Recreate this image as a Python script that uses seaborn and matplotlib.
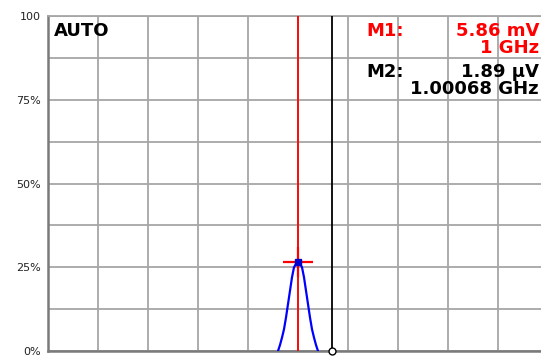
import matplotlib
matplotlib.use("Agg")
import matplotlib.pyplot as plt
import seaborn as sns
import pandas as pd
import numpy as np

# Trace data (frequency in MHz, level in %)
freq_mhz = [999.60, 999.64, 999.68, 999.72, 999.76, 999.80, 999.84, 999.88, 999.92,
            999.96, 1000.00, 1000.04, 1000.08, 1000.12, 1000.16, 1000.20, 1000.24,
            1000.28, 1000.32, 1000.36, 1000.40]
level_pct = [0.0, 1.8, 4.0, 6.5, 10.0, 14.0, 18.0, 22.0, 25.0, 26.0, 26.5,
             26.0, 25.0, 22.0, 18.0, 14.0, 10.0, 6.5, 4.0, 1.8, 0.0]

m1_freq, m1_level = 1000.0, 26.5
m2_freq, m2_level = 1000.68, 0.0
m1_texts = ["5.86 mV", "1 GHz"]
m2_texts = ["1.89 µV", "1.00068 GHz"]
y_ticks = [0, 25, 50, 75, 100]
y_tick_labels = ["0%", "25%", "50%", "75%", "100"]
x_min, x_max = 995.0, 1005.0

df = pd.DataFrame({"freq": freq_mhz, "level": level_pct})

sns.set_theme(style="white")
plt.rcParams['font.family'] = ['DejaVu Sans']

W, H = 541, 359
fig = plt.figure(figsize=(W / 100, H / 100), dpi=100)
ax = fig.add_axes([48 / W, 8 / H, 500 / W, 335 / H])

sns.lineplot(data=df, x="freq", y="level", ax=ax, color="#0000ff", linewidth=1.6,
             zorder=4)

grid_c = "#a6a6a6"
ax.set_xlim(x_min, x_max)
ax.set_ylim(0, 100)
ax.set_xticks(np.arange(x_min, x_max + 0.5, 1.0))
ax.tick_params(axis="x", labelbottom=False, length=0)
ax.tick_params(axis="y", length=0, pad=5)
ax.set_yticks(y_ticks, labels=y_tick_labels)
ax.set_yticks(np.arange(0, 100.1, 12.5), minor=True)
ax.grid(True, which="major", color=grid_c, linewidth=1.3)
ax.grid(True, which="minor", axis="y", color=grid_c, linewidth=1.3)
ax.tick_params(axis="y", which="minor", length=0)
for lab in ax.get_yticklabels():
    lab.set_fontsize(8)
    lab.set_color("#222222")
for s in ["left", "bottom"]:
    ax.spines[s].set_color("#7a7a7a")
    ax.spines[s].set_linewidth(1.8)
ax.spines["top"].set_color(grid_c)
ax.spines["top"].set_linewidth(1.3)
ax.spines["right"].set_visible(False)
ax.set_xlabel("")
ax.set_ylabel("")

# Marker lines
ax.axvline(m1_freq, color="#ff0000", linewidth=1.3, zorder=3)
ax.axvline(m2_freq, color="black", linewidth=1.3, zorder=3)

ax.plot([m1_freq], [m1_level], marker="+", color="#ff0000", markersize=22,
        markeredgewidth=1.6, zorder=5)
ax.plot([m1_freq], [m1_level], marker="s", color="#0000cc", markersize=5, zorder=6)
ax.plot([m2_freq], [m2_level], marker="o", markerfacecolor="white",
        markeredgecolor="black", markersize=5, markeredgewidth=1.0, zorder=6,
        clip_on=False)

def px(xp, yp):
    return xp / W, 1 - yp / H

tkw = dict(fontweight="bold", fontsize=13, transform=fig.transFigure,
           va="baseline")
fig.text(*px(54, 36), "AUTO", color="black", ha="left", **tkw)
fig.text(*px(366, 36), "M1:", color="#ff0000", ha="left", **tkw)
fig.text(*px(539, 36), m1_texts[0], color="#ff0000", ha="right", **tkw)
fig.text(*px(539, 53), m1_texts[1], color="#ff0000", ha="right", **tkw)
fig.text(*px(366, 77), "M2:", color="black", ha="left", **tkw)
fig.text(*px(539, 77), m2_texts[0], color="black", ha="right", **tkw)
fig.text(*px(539, 94), m2_texts[1], color="black", ha="right", **tkw)

fig.savefig("out.png", dpi=100)
